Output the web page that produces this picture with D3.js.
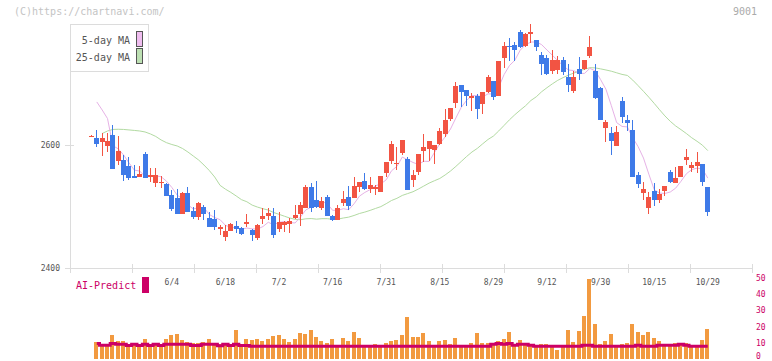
<!DOCTYPE html>
<html><head><meta charset="utf-8">
<script src="https://cdn.jsdelivr.net/npm/d3@7"></script>
<style>html,body{margin:0;padding:0;background:#fff;}svg{display:block;}</style>
</head><body>
<svg id="chart" width="772" height="361"></svg>
<script>
// ---- data ----
const tickLabels = ["6/4","6/18","7/2","7/16","7/31","8/15","8/29","9/12","9/30","10/15","10/29"];
const tickIndex  = [15,25,35,45,55,65,75,85,95,105,115];
const priceTicks = [2400, 2600];
const volumeTicks = [0, 10, 20, 30, 40, 50];

const open = [2614,2611,2605,2599,2616,2574,2576,2566,2550,2548,
2585,2548,2538,2538,2536,2519,2514,2488,2522,2492,
2483,2499,2481,2479,2464,2450,2460,2468,2465,2472,
2462,2448,2479,2485,2484,2463,2470,2472,2482,2487,
2498,2532,2510,2498,2516,2485,2478,2506,2516,2514,
2532,2541,2528,2529,2524,2554,2574,2569,2587,2578,
2543,2556,2591,2593,2592,2602,2618,2643,2669,2698,
2690,2676,2680,2667,2686,2704,2679,2742,2761,2763,
2783,2761,2780,2770,2746,2742,2721,2722,2738,2711,
2688,2724,2724,2745,2721,2692,2628,2620,2598,2672,
2641,2624,2551,2522,2498,2525,2510,2525,2556,2539,
2548,2576,2563,2566,2569,2532];
const high = [2616,2624,2619,2620,2633,2615,2584,2581,2567,2566,
2589,2562,2562,2550,2538,2527,2528,2523,2531,2499,
2508,2502,2491,2494,2470,2470,2473,2477,2467,2488,
2463,2471,2498,2497,2497,2491,2477,2481,2502,2507,
2535,2539,2541,2516,2519,2486,2502,2525,2534,2548,
2540,2554,2548,2535,2549,2573,2606,2596,2608,2581,
2559,2586,2618,2606,2600,2627,2658,2660,2703,2698,
2690,2685,2683,2686,2714,2704,2737,2768,2774,2768,
2787,2782,2797,2770,2752,2747,2754,2744,2743,2732,
2721,2743,2739,2778,2732,2695,2641,2629,2631,2678,
2649,2641,2556,2540,2524,2538,2528,2533,2559,2565,
2566,2593,2573,2589,2569,2532];
const low = [2614,2597,2582,2589,2561,2567,2542,2543,2547,2548,
2547,2540,2531,2530,2517,2492,2488,2488,2491,2479,
2478,2478,2467,2461,2453,2444,2460,2457,2453,2466,
2444,2445,2471,2478,2449,2459,2459,2457,2479,2468,
2498,2491,2497,2495,2485,2477,2478,2501,2494,2514,
2523,2527,2522,2519,2524,2548,2569,2559,2583,2527,
2532,2551,2573,2574,2569,2600,2613,2639,2660,2662,
2664,2656,2642,2650,2685,2673,2679,2726,2737,2737,
2758,2760,2766,2753,2714,2714,2715,2715,2714,2686,
2685,2705,2722,2741,2675,2640,2605,2584,2598,2636,
2623,2548,2530,2511,2488,2501,2506,2517,2538,2538,
2548,2567,2556,2555,2534,2485];
const close = [2615,2601,2611,2606,2561,2590,2551,2547,2547,2553,
2547,2551,2551,2540,2517,2496,2488,2522,2491,2483,
2506,2488,2467,2466,2466,2460,2471,2464,2455,2475,
2453,2470,2484,2490,2453,2475,2475,2477,2486,2502,
2532,2498,2499,2509,2485,2478,2498,2512,2501,2533,
2540,2528,2535,2532,2549,2573,2602,2570,2608,2527,
2551,2586,2596,2606,2600,2623,2641,2660,2696,2686,
2680,2680,2659,2686,2711,2678,2737,2761,2759,2754,
2760,2781,2783,2760,2732,2716,2739,2739,2719,2697,
2711,2716,2739,2760,2677,2640,2637,2607,2621,2646,
2636,2548,2536,2528,2515,2510,2520,2533,2540,2546,
2566,2581,2567,2572,2540,2491];
const ma5 = [null,2670,2657,2643,2598.8,2593.8,2583.8,2571,2559.2,2557.6,
2549,2549,2549.8,2548.4,2541.2,2531,2518.4,2512.6,2502.8,2496,
2498,2498,2487,2482,2478.6,2469.4,2466,2465.4,2463.2,2465,
2463.6,2463.4,2467.4,2474.4,2470,2474.4,2475.4,2474,2473.2,2483,
2494.4,2499,2503.4,2508,2504.6,2493.8,2493.8,2496.4,2494.8,2504.4,
2516.8,2522.8,2527.4,2533.6,2536.8,2543.4,2558.2,2565.2,2580.4,2576,
2571.6,2568.4,2573.6,2573.2,2587.8,2602.2,2613.2,2626,2644,2661.2,
2672.6,2680.4,2680.2,2678.2,2683.2,2682.8,2694.2,2714.6,2729.2,2737.8,
2754.2,2763,2767.4,2767.6,2763.2,2754.4,2746,2737.2,2729,2722,
2721,2716.4,2716.4,2724.6,2720.6,2706.4,2690.6,2664.2,2636.4,2630.2,
2629.4,2611.6,2597.4,2578.8,2552.6,2527.4,2521.8,2521.2,2523.6,2529.8,
2541,2553.2,2560,2562.4,2561.2,2546.2];
const ma25 = [null,null,2618.7,2622.8,2625.3,2625.6,2625.3,2624.5,2623.7,2622.8,
2621.2,2618,2613.9,2608.2,2603.8,2600.8,2598.4,2594.3,2588.6,2582.1,
2575.6,2567.4,2558.4,2547.9,2534.4,2528.2,2523,2517.2,2511.1,2507.7,
2502.2,2499,2496.4,2494.2,2490.2,2487.3,2484.2,2481.3,2479.1,2478.5,
2480,2480.4,2479.4,2480.2,2480.2,2479.1,2479.5,2481.3,2482.7,2485.4,
2488.6,2490.9,2493.7,2496.8,2499.8,2504.6,2509.8,2513.3,2518,2521,
2524,2528.4,2533.2,2538,2541.9,2545.6,2551.3,2557.7,2565.2,2573.2,
2581.3,2588.6,2594.5,2601.9,2609,2614.5,2622.9,2631.9,2641,2649.2,
2656.7,2663.8,2672.4,2678.4,2686.6,2693.2,2699.4,2705.1,2709.6,2713.5,
2717,2720,2723.2,2725.7,2725.4,2723.8,2722,2720,2717.4,2714.8,
2713.1,2705.5,2696.5,2687.3,2677.7,2667.7,2657.3,2647.3,2638.5,2631,
2625,2618.7,2611.8,2606,2599.7,2590.9];
const volume = [null,10.5,9.4,9.4,14.6,10.9,10.9,9.4,9.4,9.4,
12.1,9.4,9.4,9.4,12.1,14.6,15.2,11.5,10.5,10.0,
10.0,10.5,12.1,9.4,9.4,9.4,9.4,17.7,9.4,12.1,
11.5,12.1,11.1,12.1,14.2,14.6,12.1,10.5,12.1,15.8,
15.2,17.7,13.6,10.9,10.0,12.1,8.0,12.9,10.9,16.7,
12.9,8.0,8.0,9.4,8.4,10.0,11.3,11.7,14.6,26.0,
13.6,13.6,16.0,11.1,8.0,10.9,11.5,9.0,12.9,8.4,
8.0,10.0,16.0,9.8,9.8,8.4,10.9,12.1,16.7,8.0,
11.5,10.0,9.0,8.0,9.0,9.4,8.0,5.3,8.0,17.7,
10.5,17.1,26.4,49.4,21.4,9.4,10.9,15.2,8.0,9.4,
10.0,21.8,16.7,14.6,16.7,12.9,10.9,8.8,8.8,10.0,
9.4,10.0,8.0,8.8,11.5,18.3];
const aiPredict = [null,9.5,8.4,8.4,9.4,8.9,8.9,8.2,8.9,8.2,
8.9,8.2,8.9,8.2,8.9,8.9,8.9,8.9,8.9,8.2,
8.2,8.9,8.9,8.9,8.0,8.9,8.2,8.9,8.2,8.2,
7.8,7.8,7.8,7.8,7.8,7.8,7.8,7.8,7.8,7.8,
7.8,7.8,7.8,7.8,7.8,7.8,7.8,7.8,7.8,7.8,
7.8,7.8,7.8,7.8,7.8,7.8,7.8,7.8,7.8,7.8,
7.8,7.8,7.8,7.8,7.8,7.8,7.8,7.8,7.8,7.8,
7.8,7.8,7.8,7.8,7.8,8.9,9.4,8.9,9.4,8.4,
8.9,8.9,8.4,7.8,7.8,7.8,7.8,7.8,7.8,7.8,
7.8,7.8,8.4,8.4,7.8,7.8,7.8,7.8,7.8,7.8,
7.8,7.8,8.4,7.8,7.8,7.8,8.4,8.4,8.4,8.4,
8.9,8.4,7.8,7.8,7.8,7.8];

// ---- layout ----
const W = 772, H = 361;
const plotLeft = 70, plotRight = 752, plotTop = 24, axisY = 268;
const mono = "'DejaVu Sans Mono', monospace";
const upColor = "#f25443", downColor = "#3e7ae8";

const svg = d3.select("#chart");
const n = close.length;
const idx = d3.range(n);

const x = d3.scaleLinear().domain([-4, 123.25]).range([plotLeft, plotRight]);
const y = d3.scaleLinear().domain([2400, 2800]).range([axisY, 22]);
const yv = d3.scaleLinear().domain([0, 50]).range([358.7, 278.2]);
const grid = d3.scaleLinear().domain([0, 11]).range([plotLeft, plotRight]);

// header texts
svg.append("text").attr("x", 14).attr("y", 15).attr("font-family", mono).attr("font-size", 10)
  .attr("fill", "#c4c4c4").text("(C)https://chartnavi.com/");
svg.append("text").attr("x", 757).attr("y", 15).attr("text-anchor", "end").attr("font-family", mono)
  .attr("font-size", 10).attr("fill", "#aaaaaa").text("9001");

// axes
const axisColor = "#dcdcdc";
svg.append("line").attr("x1", plotLeft + 0.5).attr("x2", plotLeft + 0.5)
  .attr("y1", plotTop).attr("y2", axisY + 5).attr("stroke", axisColor);
svg.append("line").attr("x1", 65).attr("x2", plotRight + 0.5)
  .attr("y1", axisY + 0.5).attr("y2", axisY + 0.5).attr("stroke", axisColor);
svg.selectAll(".gtick").data(d3.range(12)).join("line")
  .attr("x1", d => Math.round(grid(d)) + 0.5).attr("x2", d => Math.round(grid(d)) + 0.5)
  .attr("y1", axisY - 4).attr("y2", axisY + 5).attr("stroke", axisColor);
svg.selectAll(".ptick").data(priceTicks).join("line")
  .attr("x1", 65).attr("x2", 74).attr("y1", d => Math.round(y(d)) + 0.5).attr("y2", d => Math.round(y(d)) + 0.5)
  .attr("stroke", axisColor);
svg.selectAll(".plabel").data(priceTicks).join("text")
  .attr("x", 60).attr("y", d => y(d) + 3).attr("text-anchor", "end")
  .attr("font-family", mono).attr("font-size", 8).attr("fill", "#555").text(d => d);

// x labels
svg.selectAll(".xlabel").data(tickIndex).join("text")
  .attr("x", d => x(d)).attr("y", 285).attr("text-anchor", "middle")
  .attr("font-family", mono).attr("font-size", 8).attr("fill", "#555")
  .text((d, i) => tickLabels[i]);

// moving averages
const maLine = arr => d3.line().defined(i => arr[i] != null).x(i => x(i)).y(i => y(arr[i]));
svg.append("path").attr("d", maLine(ma25)(idx)).attr("fill", "none").attr("stroke", "#b2daa2").attr("stroke-width", 1);
svg.append("path").attr("d", maLine(ma5)(idx)).attr("fill", "none").attr("stroke", "#e6b2e6").attr("stroke-width", 1);

// candles
const cg = svg.append("g").attr("shape-rendering", "crispEdges");
const col = i => close[i] >= open[i] ? upColor : downColor;
const left = i => Math.round(x(i) - 2.5);
cg.selectAll(".wick").data(idx).join("rect")
  .attr("x", i => left(i) + 2).attr("width", 1)
  .attr("y", i => Math.round(y(high[i])))
  .attr("height", i => Math.max(1, Math.round(y(low[i])) - Math.round(y(high[i]))))
  .attr("fill", col);
cg.selectAll(".body").data(idx).join("rect")
  .attr("x", left).attr("width", 5)
  .attr("y", i => Math.round(y(Math.max(open[i], close[i]))))
  .attr("height", i => Math.max(1, Math.round(y(Math.min(open[i], close[i]))) - Math.round(y(Math.max(open[i], close[i])))))
  .attr("fill", col);

// legend
const lg = svg.append("g");
lg.append("rect").attr("x", plotLeft + 0.5).attr("y", plotTop + 0.5).attr("width", 78).attr("height", 47)
  .attr("fill", "#fff").attr("stroke", axisColor);
lg.append("text").attr("x", 130).attr("y", 43.5).attr("text-anchor", "end").attr("font-family", mono)
  .attr("font-size", 10).attr("fill", "#555").text("5-day MA");
lg.append("text").attr("x", 130).attr("y", 60.5).attr("text-anchor", "end").attr("font-family", mono)
  .attr("font-size", 10).attr("fill", "#555").text("25-day MA");
lg.append("rect").attr("x", 136.5).attr("y", 31.5).attr("width", 6).attr("height", 15)
  .attr("fill", "#efbdef").attr("stroke", "#555");
lg.append("rect").attr("x", 136.5).attr("y", 48.5).attr("width", 6).attr("height", 15)
  .attr("fill", "#bde0b3").attr("stroke", "#555");

// AI-Predict legend
svg.append("text").attr("x", 76).attr("y", 289).attr("font-family", mono).attr("font-size", 10)
  .attr("fill", "#cc0066").text("AI-Predict");
svg.append("rect").attr("x", 142).attr("y", 277).attr("width", 7).attr("height", 16).attr("fill", "#cc0066");

// volume bars
svg.append("g").attr("shape-rendering", "crispEdges")
  .selectAll("rect").data(idx.filter(i => volume[i] != null)).join("rect")
  .attr("x", i => Math.round(x(i) - 2.5)).attr("width", 4)
  .attr("y", i => Math.round(yv(volume[i])))
  .attr("height", i => Math.round(yv(0)) - Math.round(yv(volume[i])))
  .attr("fill", "#f29a40");

// AI predict line
svg.append("path")
  .attr("d", d3.line().defined(i => aiPredict[i] != null).x(i => x(i)).y(i => yv(aiPredict[i])).curve(d3.curveStep)(idx))
  .attr("fill", "none").attr("stroke", "#cc0066").attr("stroke-width", 3);

// volume axis labels
svg.selectAll(".vlabel").data(volumeTicks).join("text")
  .attr("x", 756).attr("y", d => Math.min(yv(d) + 3, 358.5)).attr("font-family", mono).attr("font-size", 8)
  .attr("fill", "#cc0066").text(d => d);
</script>
</body></html>
